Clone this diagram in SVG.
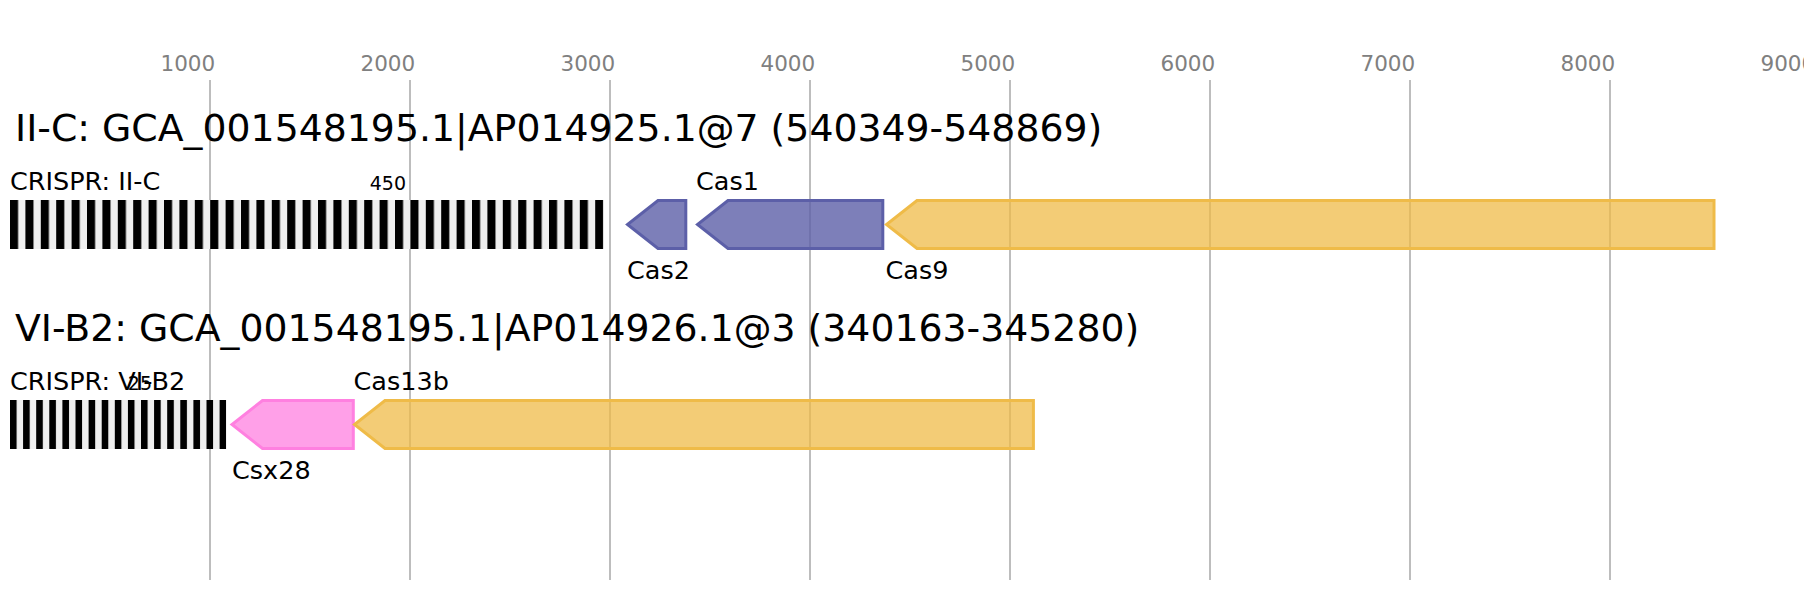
<svg xmlns="http://www.w3.org/2000/svg" width="1804" height="600" viewBox="0 0 1804 600">
<style>
.axis{font-family:"DejaVu Sans",sans-serif;font-size:21.5px;fill:#808080}
.grid{stroke:#bdbdbd;stroke-width:2}
.title{font-family:"DejaVu Sans",sans-serif;font-size:37.8px;fill:#000}
.lbl{font-family:"DejaVu Sans",sans-serif;font-size:25.5px;fill:#000}
.num{font-family:"DejaVu Sans",sans-serif;font-size:19px;fill:#000}
.purple{fill:#5c5fa8;fill-opacity:0.8;stroke:#5c5fa8;stroke-width:3}
.gold{fill:#efbb48;fill-opacity:0.75;stroke:#efbb48;stroke-width:3}
.pink{fill:#ff80e0;fill-opacity:0.75;stroke:#ff80e0;stroke-width:3}
</style>
<defs>
<pattern id="crA" patternUnits="userSpaceOnUse" x="10" y="0" width="15.4" height="600">
<rect x="0" y="0" width="15.4" height="600" fill="#efefef"/>
<rect x="0" y="0" width="8.1" height="600" fill="#000"/>
</pattern>
<pattern id="crB" patternUnits="userSpaceOnUse" x="10" y="0" width="13.1" height="600">
<rect x="0" y="0" width="13.1" height="600" fill="#efefef"/>
<rect x="0" y="0" width="6.6" height="600" fill="#000"/>
</pattern>
</defs>
<rect width="1804" height="600" fill="#fff"/>
<g id="axis">
<g class="grid">
<line x1="210" y1="80" x2="210" y2="580"/>
<line x1="410" y1="80" x2="410" y2="580"/>
<line x1="610" y1="80" x2="610" y2="580"/>
<line x1="810" y1="80" x2="810" y2="580"/>
<line x1="1010" y1="80" x2="1010" y2="580"/>
<line x1="1210" y1="80" x2="1210" y2="580"/>
<line x1="1410" y1="80" x2="1410" y2="580"/>
<line x1="1610" y1="80" x2="1610" y2="580"/>
</g>
<text class="axis" x="160.5" y="70.5">1000</text>
<text class="axis" x="360.5" y="70.5">2000</text>
<text class="axis" x="560.5" y="70.5">3000</text>
<text class="axis" x="760.5" y="70.5">4000</text>
<text class="axis" x="960.5" y="70.5">5000</text>
<text class="axis" x="1160.5" y="70.5">6000</text>
<text class="axis" x="1360.5" y="70.5">7000</text>
<text class="axis" x="1560.5" y="70.5">8000</text>
<text class="axis" x="1760.5" y="70.5">9000</text>
</g>
<g id="locus1">
<text class="title" x="15" y="141">II-C: GCA_001548195.1|AP014925.1@7 (540349-548869)</text>
</g>
<g id="crispr1">
<rect x="10" y="200" width="593.3" height="49" fill="url(#crA)"/>
<text class="lbl" x="10" y="190">CRISPR: II-C</text>
<text class="num" x="406" y="189.5" text-anchor="end">450</text>
</g>
<g id="cas2">
<path class="purple" d="M685.8,200.5 H658 L627.5,224.5 L658,248.5 H685.8 Z"/>
<text class="lbl" x="627" y="279">Cas2</text>
</g>
<g id="cas1">
<path class="purple" d="M882.8,200.5 H728 L697.5,224.5 L728,248.5 H882.8 Z"/>
<text class="lbl" x="696" y="190">Cas1</text>
</g>
<g id="cas9">
<path class="gold" d="M1714,200.5 H917 L886.5,224.5 L917,248.5 H1714 Z"/>
<text class="lbl" x="885.5" y="279">Cas9</text>
</g>
<g id="locus2">
<text class="title" x="15" y="341">VI-B2: GCA_001548195.1|AP014926.1@3 (340163-345280)</text>
</g>
<g id="crispr2">
<rect x="10" y="400" width="216.2" height="49" fill="url(#crB)"/>
<text class="lbl" x="10" y="389.5">CRISPR: VI-B2</text>
<text class="num" x="152" y="389.5" text-anchor="end">25</text>
</g>
<g id="csx28">
<path class="pink" d="M353.3,400.5 H262.5 L232,424.5 L262.5,448.5 H353.3 Z"/>
<text class="lbl" x="232" y="479">Csx28</text>
</g>
<g id="cas13b">
<path class="gold" d="M1033.4,400.5 H385 L354.5,424.5 L385,448.5 H1033.4 Z"/>
<text class="lbl" x="353.5" y="389.5">Cas13b</text>
</g>
<g id="connectors"></g>
</svg>
